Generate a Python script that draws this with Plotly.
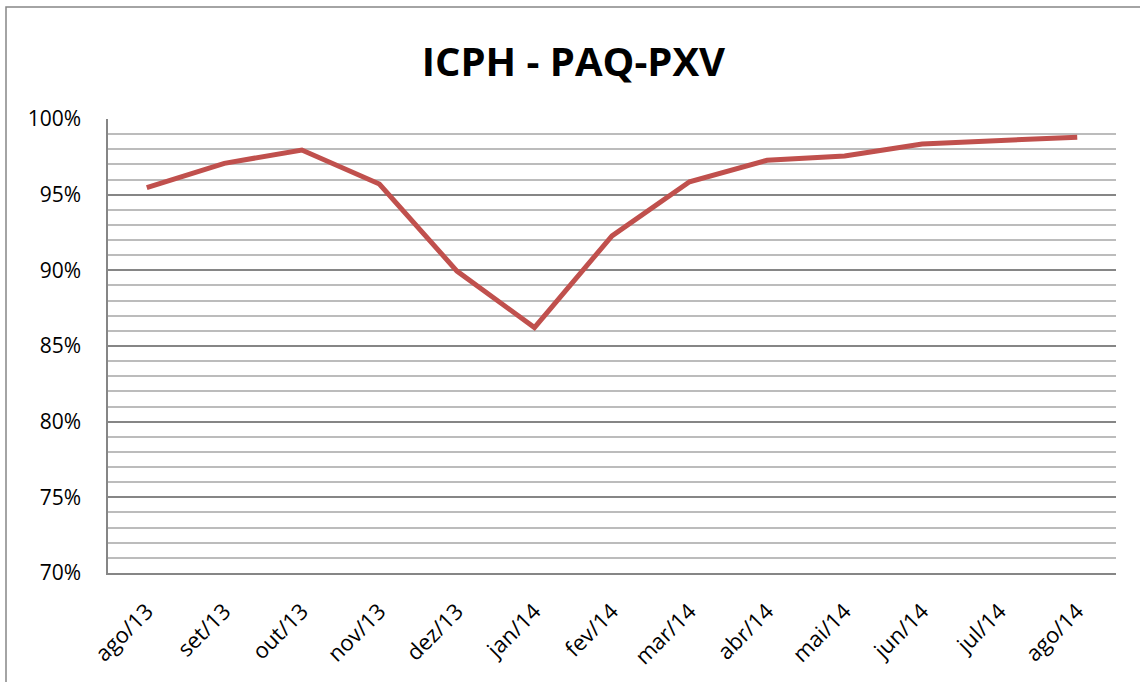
import plotly.graph_objects as go

months = ['ago/13', 'set/13', 'out/13', 'nov/13', 'dez/13', 'jan/14', 'fev/14',
          'mar/14', 'abr/14', 'mai/14', 'jun/14', 'jul/14', 'ago/14']
icph = [0.9546, 0.9707, 0.9795, 0.9570, 0.8995, 0.8622, 0.9228,
        0.9585, 0.9727, 0.9755, 0.9835, 0.9855, 0.9880]

FONT = 'Open Sans'

fig = go.Figure()
fig.add_trace(go.Scatter(x=months, y=icph, mode='lines',
                         line=dict(color='#c0504d', width=5), showlegend=False))

fig.update_layout(
    width=1140, height=682,
    paper_bgcolor='white', plot_bgcolor='white',
    margin=dict(l=108, r=24, t=119, b=109, autoexpand=False),
    title=dict(text='<b>ICPH - PAQ-PXV</b>', x=0.503, xanchor='center',
               y=1 - 62 / 682, yanchor='middle',
               font=dict(family=FONT, size=40, color='black')),
    font=dict(family=FONT, color='black'),
)

fig.update_xaxes(
    type='category', range=[-0.5, 12.5], tickangle=-45, showgrid=False,
    showline=True, linecolor='#868686', linewidth=1.5, automargin=False,
    ticks='', ticklabelstandoff=15, tickfont=dict(size=22, color='black'),
)
fig.update_yaxes(
    range=[0.70, 1.0], dtick=0.05, tickformat='.0%', automargin=False,
    showgrid=True, gridcolor='#868686', gridwidth=1.5,
    showline=True, linecolor='#868686', linewidth=1.5,
    zeroline=False, ticks='', ticklabelstandoff=21,
    tickfont=dict(size=21, color='black'),
    minor=dict(dtick=0.01, showgrid=True, gridcolor='#bcbcbc', gridwidth=1.5),
)

# chart area border
fig.add_shape(type='rect', xref='paper', yref='paper',
              x0=-102 / 1008, x1=1.1, y0=-0.5, y1=(682 - 7 - 109) / 454,
              line=dict(color='#868686', width=1.5), layer='below')

# page body has a default 8px margin; drop it so the figure sits at 0,0
fig.write_html('out.html', config={'displayModeBar': False},
               post_script="document.body.style.margin='0';")
